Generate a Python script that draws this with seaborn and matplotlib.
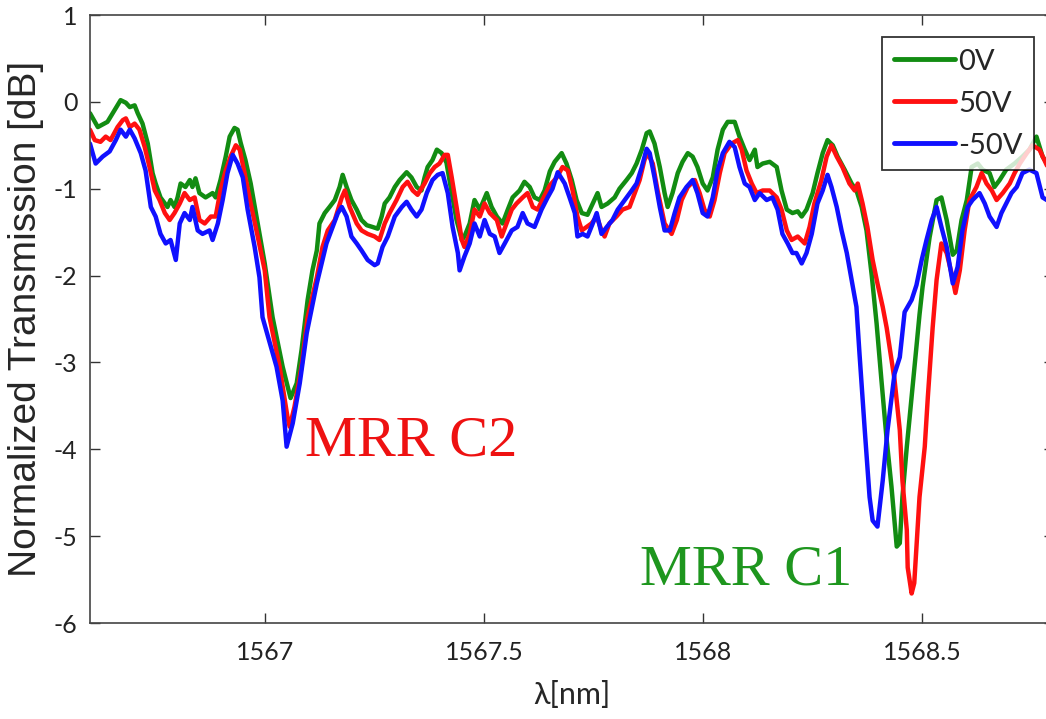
import numpy as np
import pandas as pd
import seaborn as sns
import matplotlib.pyplot as plt

# transmission spectra (wavelength in nm, transmission in dB)
wl_0v = [1566.600, 1566.618, 1566.640, 1566.652, 1566.670, 1566.682, 1566.691, 1566.702, 1566.709, 1566.720,
         1566.732, 1566.743, 1566.750, 1566.761, 1566.777, 1566.784, 1566.793, 1566.800, 1566.807, 1566.818,
         1566.828, 1566.834, 1566.841, 1566.850, 1566.864, 1566.880, 1566.887, 1566.898, 1566.910, 1566.919,
         1566.930, 1566.937, 1566.944, 1566.955, 1566.967, 1566.983, 1566.999, 1567.017, 1567.040, 1567.058,
         1567.072, 1567.083, 1567.097, 1567.108, 1567.118, 1567.124, 1567.136, 1567.147, 1567.159, 1567.170,
         1567.177, 1567.186, 1567.197, 1567.209, 1567.220, 1567.232, 1567.245, 1567.257, 1567.266, 1567.273,
         1567.284, 1567.296, 1567.307, 1567.323, 1567.334, 1567.346, 1567.357, 1567.364, 1567.371, 1567.382,
         1567.392, 1567.403, 1567.414, 1567.426, 1567.437, 1567.449, 1567.455, 1567.467, 1567.478, 1567.490,
         1567.506, 1567.517, 1567.529, 1567.542, 1567.554, 1567.565, 1567.581, 1567.592, 1567.604, 1567.615,
         1567.627, 1567.638, 1567.650, 1567.661, 1567.677, 1567.688, 1567.700, 1567.711, 1567.723, 1567.736,
         1567.748, 1567.759, 1567.768, 1567.782, 1567.798, 1567.809, 1567.825, 1567.837, 1567.848, 1567.860,
         1567.871, 1567.878, 1567.889, 1567.901, 1567.912, 1567.919, 1567.930, 1567.942, 1567.953, 1567.965,
         1567.976, 1567.987, 1567.999, 1568.010, 1568.022, 1568.033, 1568.045, 1568.056, 1568.072, 1568.083,
         1568.095, 1568.106, 1568.118, 1568.124, 1568.136, 1568.152, 1568.168, 1568.179, 1568.191, 1568.204,
         1568.216, 1568.225, 1568.236, 1568.250, 1568.261, 1568.273, 1568.284, 1568.296, 1568.307, 1568.323,
         1568.339, 1568.350, 1568.362, 1568.373, 1568.385, 1568.396, 1568.407, 1568.419, 1568.430, 1568.442,
         1568.449, 1568.455, 1568.465, 1568.476, 1568.487, 1568.494, 1568.501, 1568.517, 1568.533, 1568.544,
         1568.556, 1568.570, 1568.579, 1568.590, 1568.602, 1568.613, 1568.627, 1568.638, 1568.654, 1568.665,
         1568.677, 1568.692, 1568.711, 1568.729, 1568.745, 1568.761, 1568.775, 1568.791]
t_0v = [-0.13, -0.29, -0.23, -0.13, 0.02, -0.01, -0.06, -0.04, -0.13, -0.25,
        -0.48, -0.82, -0.94, -1.10, -1.21, -1.13, -1.21, -1.10, -0.94, -0.98,
        -0.90, -0.98, -0.88, -1.05, -1.10, -1.05, -1.10, -0.90, -0.63, -0.40,
        -0.30, -0.32, -0.47, -0.67, -0.94, -1.40, -1.86, -2.48, -3.05, -3.41,
        -3.24, -2.86, -2.28, -1.94, -1.71, -1.40, -1.28, -1.21, -1.13, -0.98,
        -0.84, -0.98, -1.13, -1.24, -1.36, -1.42, -1.44, -1.46, -1.32, -1.17,
        -1.10, -0.98, -0.90, -0.81, -0.87, -0.98, -1.02, -0.87, -0.75, -0.67,
        -0.55, -0.59, -0.70, -1.05, -1.36, -1.59, -1.55, -1.40, -1.13, -1.24,
        -1.05, -1.21, -1.32, -1.40, -1.24, -1.10, -1.02, -0.92, -0.98, -1.10,
        -1.13, -1.02, -0.80, -0.69, -0.59, -0.71, -0.90, -1.13, -1.28, -1.30,
        -1.17, -1.05, -1.21, -1.17, -1.10, -1.00, -0.90, -0.82, -0.71, -0.55,
        -0.36, -0.34, -0.48, -0.75, -1.05, -1.21, -1.05, -0.82, -0.69, -0.59,
        -0.63, -0.75, -0.94, -1.02, -0.87, -0.55, -0.32, -0.23, -0.23, -0.40,
        -0.55, -0.67, -0.55, -0.75, -0.71, -0.69, -0.75, -1.02, -1.24, -1.28,
        -1.26, -1.32, -1.24, -1.05, -0.82, -0.59, -0.44, -0.50, -0.63, -0.78,
        -0.94, -1.02, -1.21, -1.48, -2.00, -2.55, -3.20, -3.89, -4.43, -5.12,
        -5.08, -4.55, -3.97, -3.40, -2.82, -2.45, -2.13, -1.56, -1.13, -1.10,
        -1.36, -1.76, -1.71, -1.36, -1.13, -0.75, -0.71, -0.78, -0.82, -0.98,
        -0.90, -0.78, -0.71, -0.63, -0.55, -0.40, -0.63, -0.75]

wl_50v = [1566.600, 1566.611, 1566.624, 1566.636, 1566.647, 1566.663, 1566.675, 1566.682, 1566.691, 1566.702,
          1566.713, 1566.725, 1566.736, 1566.748, 1566.759, 1566.771, 1566.782, 1566.793, 1566.805, 1566.816,
          1566.828, 1566.839, 1566.850, 1566.862, 1566.876, 1566.887, 1566.898, 1566.910, 1566.921, 1566.933,
          1566.942, 1566.953, 1566.967, 1566.983, 1566.999, 1567.010, 1567.033, 1567.051, 1567.056, 1567.067,
          1567.083, 1567.097, 1567.118, 1567.131, 1567.143, 1567.159, 1567.175, 1567.182, 1567.193, 1567.209,
          1567.220, 1567.234, 1567.250, 1567.261, 1567.273, 1567.284, 1567.300, 1567.314, 1567.325, 1567.337,
          1567.348, 1567.364, 1567.376, 1567.387, 1567.398, 1567.410, 1567.417, 1567.426, 1567.437, 1567.449,
          1567.455, 1567.467, 1567.478, 1567.490, 1567.501, 1567.513, 1567.529, 1567.540, 1567.551, 1567.563,
          1567.574, 1567.588, 1567.599, 1567.611, 1567.622, 1567.633, 1567.650, 1567.666, 1567.679, 1567.691,
          1567.702, 1567.713, 1567.723, 1567.734, 1567.745, 1567.757, 1567.768, 1567.775, 1567.786, 1567.802,
          1567.816, 1567.832, 1567.844, 1567.855, 1567.866, 1567.873, 1567.885, 1567.896, 1567.912, 1567.928,
          1567.940, 1567.951, 1567.965, 1567.981, 1567.992, 1568.003, 1568.015, 1568.026, 1568.038, 1568.049,
          1568.065, 1568.079, 1568.088, 1568.099, 1568.111, 1568.122, 1568.136, 1568.152, 1568.168, 1568.179,
          1568.191, 1568.202, 1568.216, 1568.232, 1568.243, 1568.254, 1568.270, 1568.282, 1568.293, 1568.305,
          1568.318, 1568.334, 1568.346, 1568.353, 1568.364, 1568.375, 1568.387, 1568.398, 1568.410, 1568.419,
          1568.437, 1568.449, 1568.455, 1568.465, 1568.467, 1568.476, 1568.482, 1568.494, 1568.506, 1568.513,
          1568.524, 1568.533, 1568.544, 1568.556, 1568.567, 1568.576, 1568.586, 1568.597, 1568.608, 1568.624,
          1568.636, 1568.647, 1568.659, 1568.670, 1568.684, 1568.700, 1568.711, 1568.723, 1568.739, 1568.752,
          1568.768, 1568.782, 1568.791]
t_50v = [-0.32, -0.44, -0.46, -0.40, -0.44, -0.29, -0.21, -0.19, -0.29, -0.25,
         -0.32, -0.52, -0.75, -1.02, -1.13, -1.28, -1.36, -1.28, -1.17, -1.05,
         -1.13, -1.10, -1.36, -1.40, -1.32, -1.32, -1.02, -0.79, -0.63, -0.50,
         -0.55, -0.82, -1.17, -1.55, -1.94, -2.48, -3.05, -3.63, -3.74, -3.51,
         -3.05, -2.48, -2.02, -1.67, -1.48, -1.36, -1.10, -1.02, -1.21, -1.40,
         -1.48, -1.52, -1.55, -1.59, -1.40, -1.28, -1.13, -0.98, -0.92, -1.02,
         -1.07, -0.94, -0.82, -0.75, -0.71, -0.61, -0.61, -0.87, -1.21, -1.59,
         -1.67, -1.52, -1.24, -1.32, -1.17, -1.28, -1.36, -1.55, -1.40, -1.24,
         -1.17, -1.10, -1.05, -1.21, -1.24, -1.13, -0.96, -0.87, -0.75, -0.79,
         -1.02, -1.32, -1.48, -1.44, -1.40, -1.32, -1.48, -1.55, -1.40, -1.32,
         -1.24, -1.21, -1.05, -0.90, -0.67, -0.59, -0.71, -1.02, -1.40, -1.52,
         -1.36, -1.13, -0.98, -0.90, -1.05, -1.24, -1.32, -1.13, -0.82, -0.59,
         -0.48, -0.44, -0.55, -0.79, -0.94, -1.05, -1.02, -1.02, -1.10, -1.24,
         -1.48, -1.59, -1.55, -1.63, -1.44, -1.17, -0.90, -0.63, -0.50, -0.63,
         -0.75, -0.94, -1.02, -0.94, -1.17, -1.44, -1.82, -2.09, -2.36, -2.60,
         -3.20, -3.78, -4.36, -4.93, -5.36, -5.66, -5.54, -4.55, -3.97, -3.40,
         -2.60, -2.05, -1.63, -1.74, -1.97, -2.20, -1.94, -1.48, -1.13, -0.98,
         -0.82, -0.94, -1.02, -1.13, -1.05, -0.94, -0.82, -0.71, -0.59, -0.50,
         -0.55, -0.70, -0.80]

wl_n50v = [1566.600, 1566.613, 1566.629, 1566.645, 1566.659, 1566.670, 1566.682, 1566.691, 1566.702, 1566.716,
           1566.727, 1566.739, 1566.750, 1566.761, 1566.773, 1566.784, 1566.796, 1566.805, 1566.816, 1566.828,
           1566.834, 1566.846, 1566.857, 1566.873, 1566.880, 1566.892, 1566.903, 1566.914, 1566.926, 1566.937,
           1566.949, 1566.960, 1566.976, 1566.987, 1566.994, 1567.026, 1567.040, 1567.049, 1567.063, 1567.079,
           1567.095, 1567.118, 1567.129, 1567.140, 1567.154, 1567.166, 1567.175, 1567.186, 1567.197, 1567.209,
           1567.220, 1567.234, 1567.250, 1567.257, 1567.268, 1567.280, 1567.296, 1567.312, 1567.323, 1567.334,
           1567.346, 1567.357, 1567.369, 1567.382, 1567.394, 1567.405, 1567.417, 1567.428, 1567.440, 1567.444,
           1567.455, 1567.467, 1567.478, 1567.490, 1567.501, 1567.513, 1567.524, 1567.535, 1567.547, 1567.563,
           1567.576, 1567.588, 1567.599, 1567.615, 1567.631, 1567.645, 1567.656, 1567.668, 1567.684, 1567.695,
           1567.707, 1567.713, 1567.725, 1567.736, 1567.748, 1567.757, 1567.768, 1567.780, 1567.793, 1567.805,
           1567.821, 1567.837, 1567.848, 1567.860, 1567.871, 1567.878, 1567.889, 1567.901, 1567.912, 1567.924,
           1567.935, 1567.946, 1567.962, 1567.976, 1567.987, 1567.999, 1568.010, 1568.022, 1568.033, 1568.045,
           1568.060, 1568.072, 1568.083, 1568.095, 1568.106, 1568.118, 1568.129, 1568.145, 1568.158, 1568.170,
           1568.181, 1568.193, 1568.204, 1568.213, 1568.225, 1568.236, 1568.248, 1568.261, 1568.273, 1568.284,
           1568.293, 1568.305, 1568.316, 1568.328, 1568.339, 1568.350, 1568.357, 1568.369, 1568.380, 1568.387,
           1568.398, 1568.410, 1568.421, 1568.437, 1568.449, 1568.460, 1568.476, 1568.487, 1568.499, 1568.510,
           1568.522, 1568.533, 1568.544, 1568.556, 1568.570, 1568.581, 1568.592, 1568.604, 1568.615, 1568.631,
           1568.643, 1568.654, 1568.670, 1568.681, 1568.692, 1568.704, 1568.716, 1568.729, 1568.745, 1568.761,
           1568.775, 1568.791]
t_n50v = [-0.48, -0.71, -0.63, -0.57, -0.44, -0.32, -0.40, -0.32, -0.42, -0.59,
          -0.79, -1.21, -1.32, -1.52, -1.63, -1.59, -1.82, -1.40, -1.28, -1.36,
          -1.21, -1.48, -1.52, -1.48, -1.59, -1.40, -1.13, -0.82, -0.61, -0.71,
          -0.87, -1.24, -1.67, -2.02, -2.48, -3.05, -3.44, -3.97, -3.70, -3.24,
          -2.66, -2.09, -1.86, -1.63, -1.44, -1.28, -1.21, -1.32, -1.55, -1.63,
          -1.71, -1.82, -1.88, -1.86, -1.67, -1.55, -1.32, -1.21, -1.15, -1.24,
          -1.32, -1.24, -1.05, -0.90, -0.84, -0.82, -1.05, -1.44, -1.74, -1.94,
          -1.78, -1.63, -1.40, -1.55, -1.36, -1.52, -1.55, -1.74, -1.63, -1.48,
          -1.44, -1.28, -1.40, -1.44, -1.24, -1.10, -1.00, -0.81, -0.94, -1.10,
          -1.28, -1.55, -1.52, -1.55, -1.40, -1.28, -1.52, -1.44, -1.36, -1.24,
          -1.13, -1.02, -0.94, -0.75, -0.54, -0.59, -0.87, -1.21, -1.48, -1.48,
          -1.28, -1.10, -0.98, -0.90, -1.05, -1.28, -1.32, -1.10, -0.79, -0.59,
          -0.46, -0.52, -0.75, -0.94, -0.98, -1.13, -1.05, -1.13, -1.10, -1.24,
          -1.52, -1.63, -1.74, -1.74, -1.86, -1.74, -1.52, -1.17, -1.02, -0.84,
          -0.98, -1.21, -1.48, -1.74, -2.05, -2.36, -2.90, -3.78, -4.55, -4.82,
          -4.89, -4.36, -3.78, -3.13, -2.94, -2.42, -2.28, -2.11, -1.82, -1.59,
          -1.36, -1.21, -1.44, -1.67, -2.09, -1.90, -1.48, -1.21, -1.13, -1.05,
          -1.17, -1.32, -1.44, -1.28, -1.17, -1.05, -0.98, -0.82, -0.78, -0.82,
          -1.10, -1.15]

labels = ["0V", "50V", "-50V"]
colors = ["#128c12", "#ff1010", "#1010ff"]
x_ticks = [1567, 1567.5, 1568, 1568.5]
y_ticks = [-6, -5, -4, -3, -2, -1, 0, 1]

df = pd.concat([
    pd.DataFrame({"wl": wl_0v, "T": t_0v, "bias": labels[0]}),
    pd.DataFrame({"wl": wl_50v, "T": t_50v, "bias": labels[1]}),
    pd.DataFrame({"wl": wl_n50v, "T": t_n50v, "bias": labels[2]}),
], ignore_index=True)

sns.set_style("ticks")
plt.rcParams["font.family"] = ["Lato", "DejaVu Sans"]
plt.rcParams["axes.unicode_minus"] = False

fig = plt.figure(figsize=(10.46, 7.19), dpi=100)
ax = fig.add_axes([0.0860, 0.1335, 0.9212, 0.8456])

sns.lineplot(data=df, x="wl", y="T", hue="bias", hue_order=labels,
             palette=dict(zip(labels, colors)), estimator=None, sort=False,
             lw=3.2, ax=ax)

ax.set_xlim(1566.6, 1568.8)
ax.set_ylim(-6, 1)
ax.set_xticks(x_ticks)
ax.set_xticklabels(["1567", "1567.5", "1568", "1568.5"])
ax.set_yticks(y_ticks)
ax.tick_params(direction="in", length=7, width=1, colors="#333333",
               top=True, right=True, labelsize=18)
ax.tick_params(axis="x", pad=13, labelcolor="#222222")
ax.tick_params(axis="y", pad=9, labelcolor="#222222")
for sp in ax.spines.values():
    sp.set_color("#444444")
    sp.set_linewidth(1.2)

ax.set_xlabel("λ[nm]", fontsize=22, family=["Lato", "DejaVu Sans"], va="top")
ax.xaxis.set_label_coords(0.5, -0.095)
ax.set_ylabel("Normalized Transmission [dB]", fontsize=28, family="Liberation Sans")
ax.yaxis.set_label_coords(-0.048, 0.5)

ax.text(1567.09, -4.07, "MRR C2", color="#ee1111", fontsize=42,
        family="Liberation Serif", va="baseline")
ax.text(1567.855, -5.56, "MRR C1", color="#1e961e", fontsize=42,
        family="Liberation Serif", va="baseline")

handles, labs = ax.get_legend_handles_labels()
leg = ax.legend(handles, labs, loc="upper right", bbox_to_anchor=(0.980, 0.964),
                borderaxespad=0, fontsize=21, frameon=True, fancybox=False,
                handlelength=2.1, handletextpad=0.1, labelspacing=0.55,
                borderpad=0.4)
leg.get_frame().set_edgecolor("black")
leg.get_frame().set_linewidth(1.3)
for line in leg.get_lines():
    line.set_linewidth(3.5)

fig.savefig("out.png", dpi=100)
